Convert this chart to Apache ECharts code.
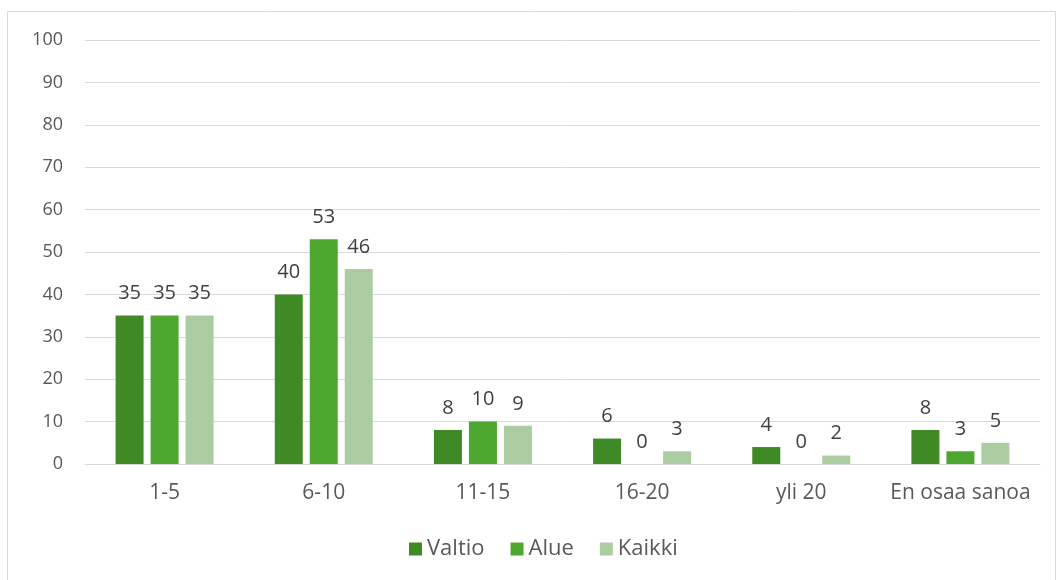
<!DOCTYPE html>
<html lang="fi">
<head>
<meta charset="UTF-8">
<title>Valtio / Alue / Kaikki</title>
<script src="https://cdn.jsdelivr.net/npm/echarts@6/dist/echarts.min.js"></script>
<style>
  html, body { margin: 0; padding: 0; background: #fff; }
  #chart { width: 1058px; height: 580px; }
</style>
</head>
<body>
<div id="chart"></div>
<script>
var categories = ['1-5', '6-10', '11-15', '16-20', 'yli 20', 'En osaa sanoa'];
var valtio = [35, 40, 8, 6, 4, 8];
var alue = [35, 53, 10, 0, 0, 3];
var kaikki = [35, 46, 9, 3, 2, 5];

var textColor = '#595959';
var font = 'Open Sans';

function bar(name, data, color) {
    return {
        name: name,
        type: 'bar',
        data: data,
        barWidth: 28,
        barGap: '25%',
        itemStyle: { color: color },
        label: {
            show: true,
            position: 'top',
            distance: 12,
            color: '#404040',
            fontSize: 20,
            fontFamily: font
        }
    };
}

var myChart = echarts.init(document.getElementById('chart'), null, { renderer: 'canvas' });
var option = {
    animation: false,
    textStyle: { fontFamily: font },
    graphic: [{
        type: 'rect',
        shape: { x: 7.5, y: 11.5, width: 1048, height: 600 },
        style: { fill: 'none', stroke: '#d9d9d9', lineWidth: 1 },
        silent: true
    }],
    grid: { left: 85, right: 18, top: 40, bottom: 116, containLabel: false },
    legend: {
        bottom: 15,
        left: 404,
        itemWidth: 13,
        itemHeight: 13,
        itemGap: 26,
        icon: 'rect',
        textStyle: { color: textColor, fontSize: 22, fontFamily: font },
        data: ['Valtio', 'Alue', 'Kaikki']
    },
    xAxis: {
        type: 'category',
        data: categories,
        axisLine: { lineStyle: { color: '#d9d9d9', width: 1 } },
        axisTick: { show: false },
        axisLabel: { color: textColor, fontSize: 21, fontFamily: font, margin: 19, interval: 0 }
    },
    yAxis: {
        type: 'value',
        min: 0,
        max: 100,
        interval: 10,
        axisLine: { show: false },
        axisTick: { show: false },
        splitLine: { lineStyle: { color: '#d9d9d9', width: 1 } },
        axisLabel: { color: textColor, fontSize: 18, fontFamily: font, margin: 22 }
    },
    series: [
        bar('Valtio', valtio, '#3f8a25'),
        bar('Alue', alue, '#4ea72e'),
        bar('Kaikki', kaikki, '#abcca1')
    ]
};
myChart.setOption(option);
window.addEventListener('resize', myChart.resize);
</script>
</body>
</html>
